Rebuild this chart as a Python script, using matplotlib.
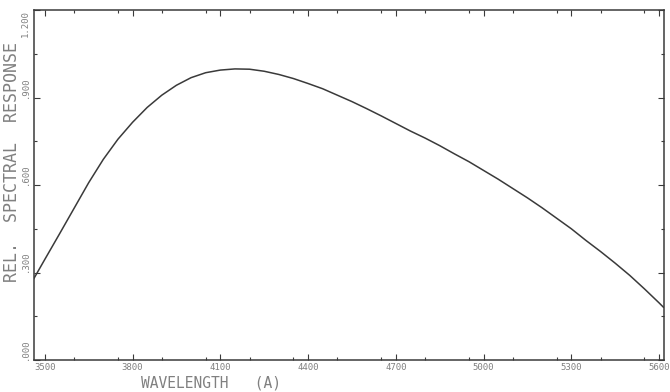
"""Relative spectral response vs wavelength, old plotter style."""

import matplotlib

matplotlib.use("Agg")
import matplotlib.pyplot as plt
from matplotlib.ticker import MultipleLocator

# --------------------------------------------------------------- data

wavelength = [3463, 3500, 3550, 3600, 3650, 3700, 3750, 3800, 3850, 3900,
              3950, 4000, 4050, 4100, 4150, 4200, 4250, 4300, 4350, 4400,
              4450, 4500, 4550, 4600, 4650, 4700, 4750, 4800, 4850, 4900,
              4950, 5000, 5050, 5100, 5150, 5200, 5250, 5300, 5350, 5400,
              5450, 5500, 5550, 5600, 5615]
response = [0.280, 0.345, 0.432, 0.520, 0.608, 0.688, 0.757, 0.815, 0.866, 0.908,
            0.942, 0.968, 0.985, 0.994, 0.998, 0.997, 0.990, 0.979, 0.965, 0.948,
            0.930, 0.908, 0.886, 0.862, 0.837, 0.811, 0.785, 0.761, 0.735, 0.707,
            0.680, 0.650, 0.620, 0.588, 0.556, 0.522, 0.486, 0.450, 0.410, 0.372,
            0.332, 0.290, 0.244, 0.196, 0.181]

x_ticks = [3500, 3800, 4100, 4400, 4700, 5000, 5300, 5600]
x_labels = ["3500", "3800", "4100", "4400", "4700", "5000", "5300", "5600"]
y_ticks = [0.0, 0.3, 0.6, 0.9, 1.2]
y_labels = [".000", ".300", ".600", ".900", "1.200"]

INK = "#3a3a3a"
TEXT = "#808080"

# --------------------------------------------------------------- figure

fig = plt.figure(figsize=(6.7, 3.92), dpi=100)
ax = fig.add_axes([34 / 670, 1 - 360 / 392, 630 / 670, 350 / 392])

ax.plot(wavelength, response, color=INK, linewidth=1.1)

ax.set_xlim(3463, 5617)
ax.set_ylim(0, 1.2)

for s in ax.spines.values():
    s.set_color(INK)
    s.set_linewidth(1.1)

ax.set_xticks(x_ticks)
ax.set_xticklabels(x_labels, family="DejaVu Sans Mono", fontsize=6.5, color=TEXT)
ax.xaxis.set_minor_locator(MultipleLocator(150))
ax.set_yticks(y_ticks)
ax.set_yticklabels(y_labels, family="DejaVu Sans Mono", fontsize=6.5, color=TEXT,
                   rotation=90)
ax.yaxis.set_minor_locator(MultipleLocator(0.15))

ax.tick_params(which="both", direction="in", top=True, right=True, color=INK,
               width=0.8)
ax.tick_params(which="major", length=4)
ax.tick_params(which="minor", length=2)
ax.tick_params(axis="x", pad=2)
ax.tick_params(axis="y", pad=3)

ylabs = ax.get_yticklabels()
for lab in ylabs:
    lab.set_va("bottom")
ylabs[-1].set_va("top")

fig.text(211 / 670, 1 - 383 / 392, "WAVELENGTH   (A)", family="DejaVu Sans Mono",
         fontsize=10.5, color=TEXT, ha="center", va="center")
fig.text(12 / 670, 1 - 162 / 392, "REL.  SPECTRAL  RESPONSE", family="DejaVu Sans Mono",
         fontsize=12, color=TEXT, ha="center", va="center", rotation=90)

fig.savefig("out.png", dpi=100)
plt.close(fig)
